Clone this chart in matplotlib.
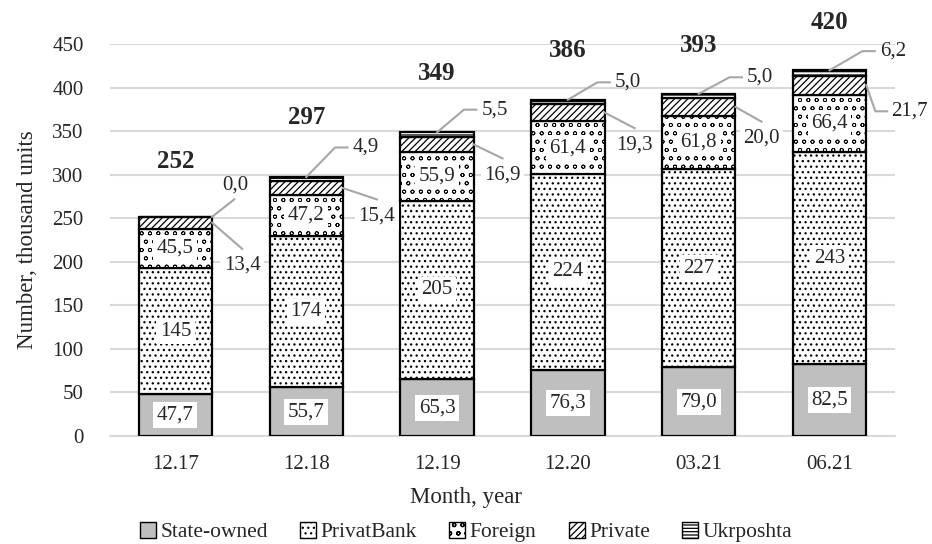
import numpy as np
import matplotlib as mpl
import matplotlib.pyplot as plt
from matplotlib.patches import Patch

plt.rcParams['font.family'] = ['Liberation Serif', 'DejaVu Serif']
plt.rcParams['hatch.linewidth'] = 0.9

### data (thousand units) ###
months = ['12.17', '12.18', '12.19', '12.20', '03.21', '06.21']
state = [47.7, 55.7, 65.3, 76.3, 79.0, 82.5]
privat = [145, 174, 205, 224, 227, 243]
foreign = [45.5, 47.2, 55.9, 61.4, 61.8, 66.4]
private = [13.4, 15.4, 16.9, 19.3, 20.0, 21.7]
ukrposhta = [0.0, 4.9, 5.5, 5.0, 5.0, 6.2]
totals = [252, 297, 349, 386, 393, 420]

### label placement: (x offset from bar centre, y offset) ###
total_dy = [63, 68, 68, 57, 55, 55]
ukr_lab = [(0.36, 36), (0.355, 34), (0.34, 26), (0.36, 20), (0.37, 19), (0.385, 22)]
priv_lab = [(0.51, -49), (0.54, -32), (0.50, -35), (0.51, -37), (0.48, -36), (0.47, -30)]
priv_elbow = [False, False, False, False, False, True]

txt = '#262626'
lead = '#a6a6a6'
w = 0.56

def fmt(v):
    return ('%.1f' % v).replace('.', ',')

fig = plt.figure(figsize=(9.32, 5.44), dpi=100)
ax = fig.add_axes([110/932, 1-436/544, 785/932, 392/544])

x = np.arange(len(months))
# (values, name, fill style, hatch line width)
series = [
    (state, 'State-owned', dict(facecolor='#bfbfbf', hatch=None), 0.9),
    (privat, 'PrivatBank', dict(facecolor='white', hatch='...'), 0.9),
    (foreign, 'Foreign', dict(facecolor='white', hatch='oo'), 0.55),
    (private, 'Private', dict(facecolor='white', hatch='/////'), 0.9),
    (ukrposhta, 'Ukrposhta', dict(facecolor='white', hatch='-----'), 0.9),
]

bottom = np.zeros(len(months))
bottoms = []
for vals, name, style, hlw in series:
    vals = np.array(vals, dtype=float)
    with mpl.rc_context({'hatch.linewidth': hlw}):
        ax.bar(x, vals, w, bottom=bottom, edgecolor='black', linewidth=1.6,
               zorder=3, **style)
    bottoms.append(bottom.copy())
    bottom = bottom + vals

box = dict(facecolor='white', edgecolor='none', pad=2.5)

### labels inside the bars ###
for i in x:
    ax.text(i, bottoms[0][i] + state[i]/2, fmt(state[i]), ha='center', va='center',
            fontsize=15, color=txt, bbox=box, zorder=5)
    ax.text(i, bottoms[1][i] + privat[i]/2, '%d' % privat[i], ha='center', va='center',
            fontsize=15, color=txt, bbox=box, zorder=5)
    ax.text(i, bottoms[2][i] + foreign[i]/2, fmt(foreign[i]), ha='center', va='center',
            fontsize=15, color=txt, bbox=box, zorder=5)

### Ukrposhta and Private labels with leader lines ###
for i in x:
    top = bottom[i]
    dx, dy = ukr_lab[i]
    ty = top + dy
    if ukrposhta[i] == 0:
        ax.plot([i + w/2, i + dx + 0.09], [top, ty - 16], color=lead, lw=1.5,
                clip_on=False, zorder=4)
    else:
        ax.plot([i, i + dx - 0.135, i + dx - 0.04], [top, ty, ty], color=lead,
                lw=1.5, clip_on=False, zorder=4)
    ax.text(i + dx, ty, fmt(ukrposhta[i]), ha='left', va='center',
            fontsize=15, color=txt, clip_on=False)

    pmid = bottoms[3][i] + private[i]/2
    dx, dy = priv_lab[i]
    ty = pmid + dy
    if priv_elbow[i]:
        ax.plot([i + w/2, i + 0.35, i + 0.44], [pmid, ty, ty], color=lead,
                lw=1.5, clip_on=False, zorder=4)
        ax.text(i + dx, ty, fmt(private[i]), ha='left', va='center',
                fontsize=15, color=txt, clip_on=False)
    else:
        ax.plot([i + w/2, i + dx], [pmid, ty + 19], color=lead, lw=1.5,
                clip_on=False, zorder=4)
        ax.text(i + dx, ty, fmt(private[i]), ha='center', va='center',
                fontsize=15, color=txt, bbox=box, zorder=5)

### totals ###
for i in x:
    ax.text(i, bottom[i] + total_dy[i], '%d' % totals[i], ha='center', va='center',
            fontsize=18, fontweight='bold', color=txt, clip_on=False)

ax.set_xlim(-0.5, len(months) - 0.5)
ax.set_ylim(0, 450)
ax.set_yticks(np.arange(0, 451, 50))
ax.set_xticks(x)
ax.set_xticklabels(months)
ax.tick_params(axis='both', length=0, labelsize=15, labelcolor=txt)
ax.tick_params(axis='y', pad=19)
ax.tick_params(axis='x', pad=14)
ax.yaxis.grid(True, color='#d9d9d9', lw=1.5)
ax.set_axisbelow(True)
for s in ['top', 'right', 'left']:
    ax.spines[s].set_visible(False)
ax.spines['bottom'].set_color('#d9d9d9')
ax.spines['bottom'].set_linewidth(1.5)

ax.set_ylabel('Number, thousand units', fontsize=16.5, color=txt, labelpad=10)
fig.text(0.5, 1 - 497/544, 'Month, year', ha='center', va='center',
         fontsize=16.5, color=txt)

handles = []
for vals, name, style, hlw in series:
    with mpl.rc_context({'hatch.linewidth': hlw}):
        handles.append(Patch(edgecolor='black', linewidth=1.0, label=name, **style))
fig.legend(handles=handles, loc='center', bbox_to_anchor=(0.5, 1 - 532/544),
           ncol=5, frameon=False, fontsize=15.5, handlelength=0.75, handleheight=0.75,
           handletextpad=0.2, columnspacing=1.5, labelcolor=txt)

fig.savefig('out.png', dpi=100)
